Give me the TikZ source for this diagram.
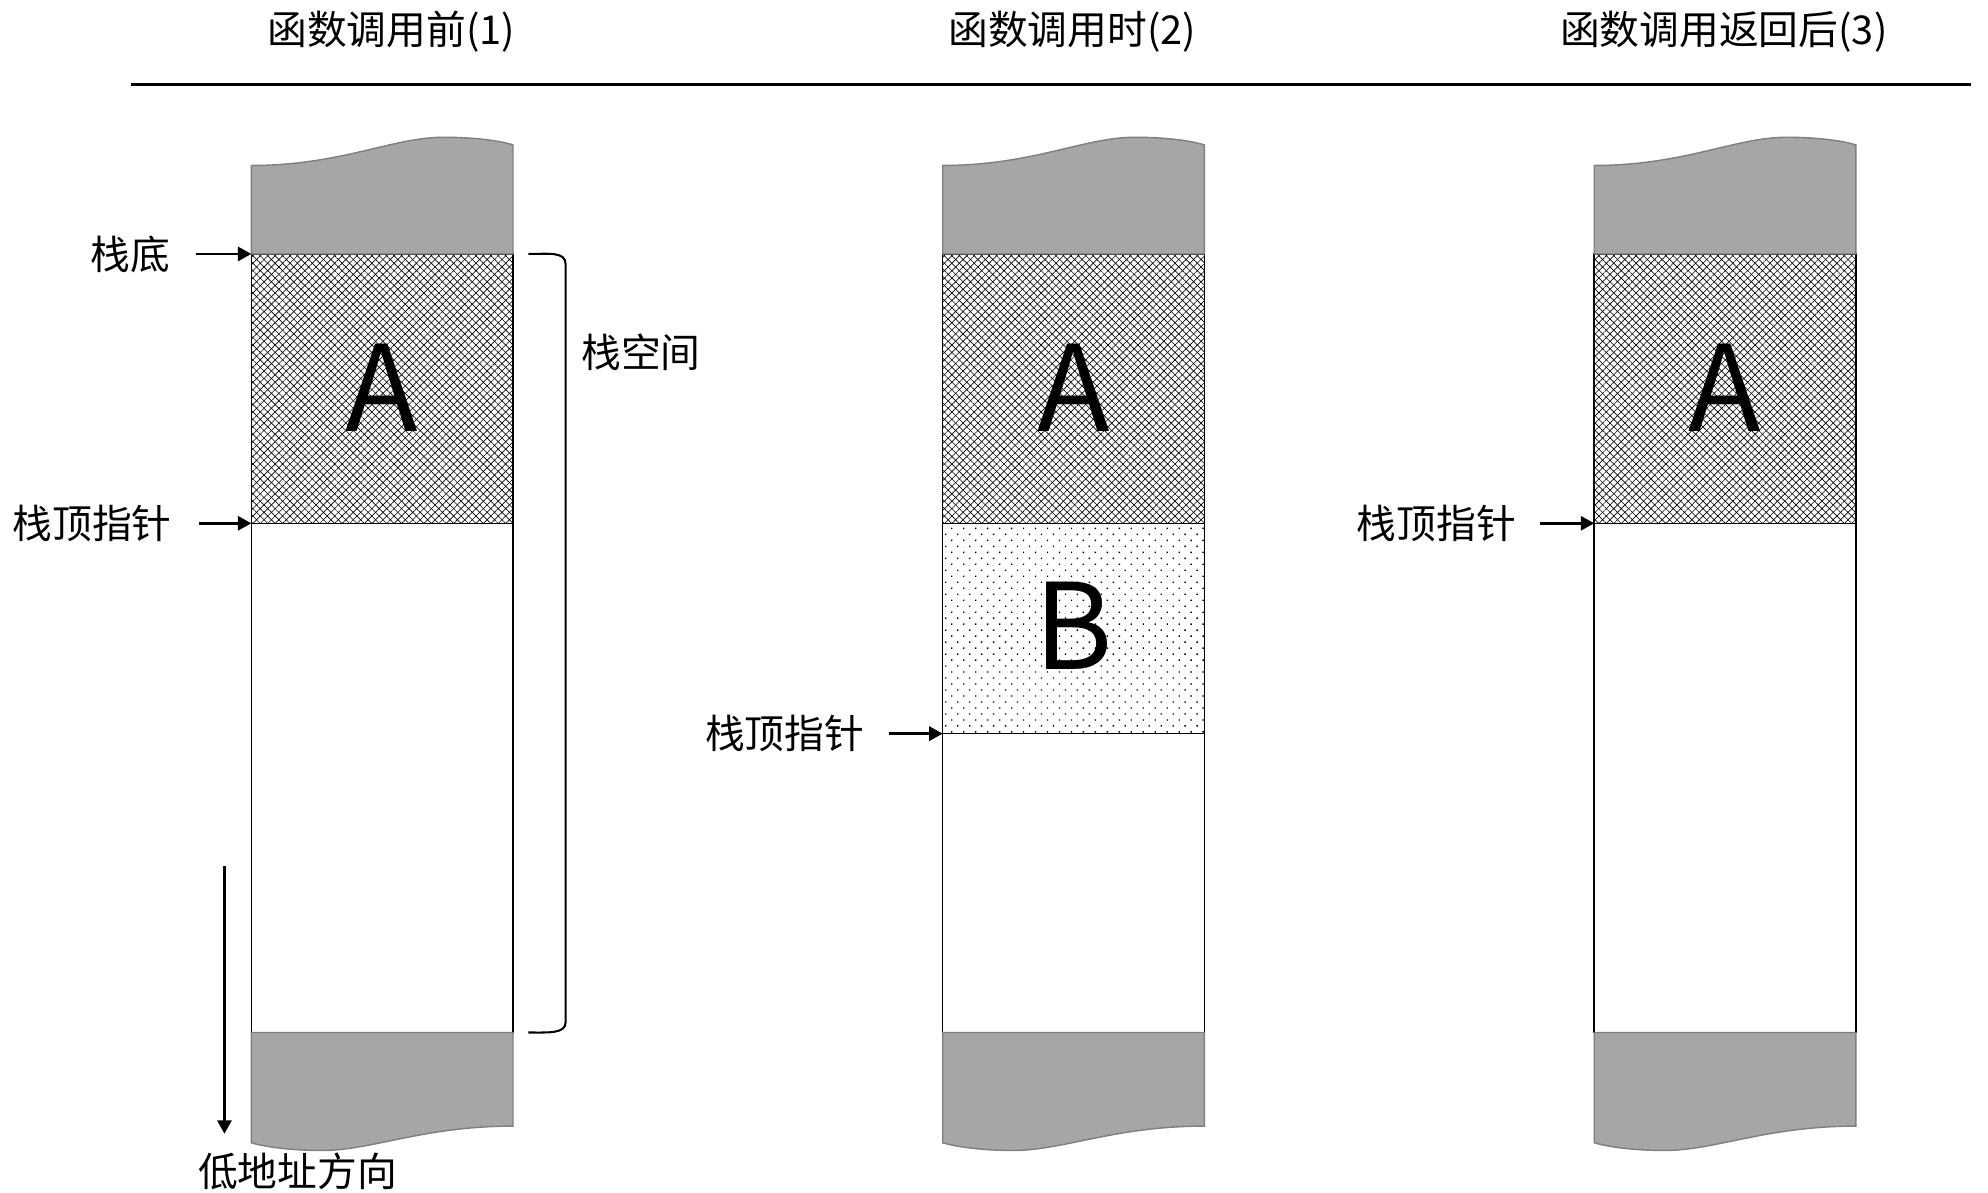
\documentclass[tikz,border=0pt]{standalone}
\usepackage{fontspec}
\setmainfont{Noto Sans CJK SC}
\usetikzlibrary{arrows.meta,patterns.meta}
\definecolor{stackgray}{HTML}{A6A6A6}
\definecolor{stackedge}{HTML}{7F7F7F}
\newcommand\stackcaps[1]{%
  \path[capshape] (#1,198) -- (#1,129) .. controls ({#1+70},129) and ({#1+110},107) .. ({#1+150},107)
     .. controls ({#1+175},107) and ({#1+195},110) .. ({#1+204},113) -- ({#1+204},198) -- cycle;
  \path[capshape] ({#1+204},805) -- ({#1+204},878) .. controls ({#1+134},878) and ({#1+94},897) .. ({#1+55},897)
     .. controls ({#1+30},897) and ({#1+10},894) .. (#1,891) -- (#1,805) -- cycle;
}
\newcommand\hatchbox[2]{%
  \path[pattern={Lines[angle=45,distance=4.1pt,line width=0.5pt]}] #1 rectangle #2;
  \path[pattern={Lines[angle=-45,distance=4.1pt,line width=0.5pt]}] #1 rectangle #2;
}
\begin{document}
\begin{tikzpicture}[x=1pt,y=-1pt,
  lbl/.style={font=\fontsize{31}{36}\selectfont, inner sep=0pt},
  big/.style={font=\fontsize{93}{100}\selectfont, inner sep=0pt},
  cell/.style={draw=black, line width=1.2pt},
  capshape/.style={draw=stackedge, fill=stackgray, line width=1.1pt},
  ptr/.style={line width=2pt, -{Triangle[length=10.5pt,width=11pt]}}]
\useasboundingbox (0,0) rectangle (1550,930);

% titles and rule
\node[lbl] (t1) at (305,25) {函数调用前(1)};
\node[lbl] (t2) at (836,25) {函数调用时(2)};
\node[lbl] (t3) at (1344,25) {函数调用返回后(3)};
\coordinate (ruleL) at (102,66);
\coordinate (ruleR) at (1537,66);
\draw[line width=2pt] (ruleL) -- (ruleR);

% ---------- column 1 ----------
\hatchbox{(196,198)}{(400,408)}
\draw[cell] (196,198) rectangle (400,408);
\draw[cell] (196,408) rectangle (400,805);
\stackcaps{196}
\node[big] (a1) at (298,302) {A};

\node[lbl, anchor=east] (bot1) at (133,198) {栈底};
\coordinate (bot1s) at (153,198);
\coordinate (bot1e) at (196,198);
\draw[ptr] (bot1s) -- (bot1e);

\node[lbl, anchor=east] (top1) at (134,408) {栈顶指针};
\coordinate (top1s) at (155,408);
\coordinate (top1e) at (196,408);
\draw[ptr] (top1s) -- (top1e);

\coordinate (brA) at (412,198);
\coordinate (brB) at (412,805);
\draw[line width=1.6pt] (brA) .. controls (428,198) and (441,196) .. (441,206) -- (441,797)
   .. controls (441,806) and (428,805) .. (brB);
\node[lbl, anchor=west] (space) at (453,275) {栈空间};

\coordinate (dirS) at (175,675);
\coordinate (dirE) at (175,884);
\draw[ptr] (dirS) -- (dirE);
\node[lbl] (dir) at (232,913) {低地址方向};

% ---------- column 2 ----------
\hatchbox{(735,198)}{(939,408)}
\path[pattern={Dots[angle=45,distance=6.6pt,radius=0.75pt]}] (735,408) rectangle (939,572);
\draw[cell] (735,198) rectangle (939,408);
\draw[cell] (735,408) rectangle (939,572);
\draw[cell] (735,572) rectangle (939,805);
\stackcaps{735}
\node[big] (a2) at (837,302) {A};
\node[big] (b2) at (837,488) {B};

\node[lbl, anchor=east] (top2) at (674,572) {栈顶指针};
\coordinate (top2s) at (693,572);
\coordinate (top2e) at (735,572);
\draw[ptr] (top2s) -- (top2e);

% ---------- column 3 ----------
\hatchbox{(1243,198)}{(1447,408)}
\draw[cell] (1243,198) rectangle (1447,408);
\draw[cell] (1243,408) rectangle (1447,805);
\stackcaps{1243}
\node[big] (a3) at (1345,302) {A};

\node[lbl, anchor=east] (top3) at (1182,408) {栈顶指针};
\coordinate (top3s) at (1201,408);
\coordinate (top3e) at (1243,408);
\draw[ptr] (top3s) -- (top3e);
\end{tikzpicture}
\end{document}
